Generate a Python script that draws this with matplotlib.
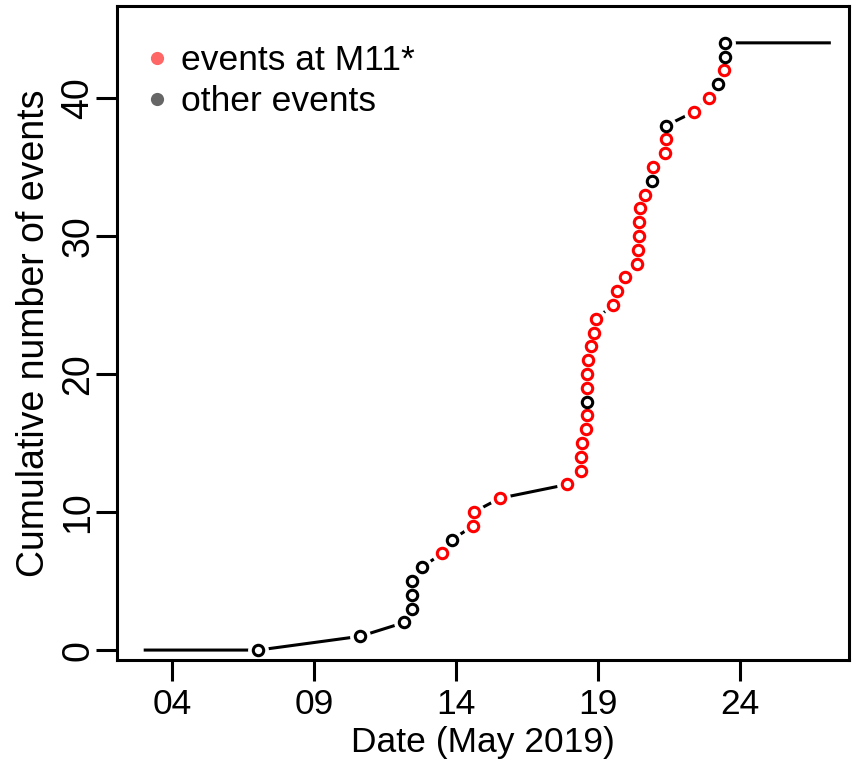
import numpy as np
import matplotlib
matplotlib.use("Agg")
import matplotlib.pyplot as plt
from matplotlib.lines import Line2D

plt.rcParams['font.family'] = ['Liberation Sans', 'DejaVu Sans']

# event times (day of May 2019, fractional) in order of occurrence
event_day = [7.04, 10.63, 12.18, 12.46, 12.46, 12.46, 12.79, 13.51, 13.86,
             14.60, 14.63, 15.54, 17.92, 18.39, 18.41, 18.45, 18.57, 18.60,
             18.60, 18.62, 18.62, 18.66, 18.74, 18.86, 18.92, 19.54, 19.68,
             19.95, 20.38, 20.41, 20.44, 20.44, 20.47, 20.65, 20.91, 20.94,
             21.36, 21.38, 21.40, 22.38, 22.91, 23.24, 23.44, 23.47, 23.49]
# True where the event was located at M11
at_m11 = [False, False, False, False, False, False, False, True, False,
          True, True, True, True, True, True, True, True, True,
          False, True, True, True, True, True, True, True, True,
          True, True, True, True, True, True, True, False, True,
          True, True, False, True, True, False, True, False, False]

period_start = 3.0   # start of observation window
period_end = 27.2    # end of observation window

tick_days = [4, 9, 14, 19, 24]
tick_labels = ['04', '09', '14', '19', '24']
y_ticks = [0, 10, 20, 30, 40]

FS_H = 25.5   # horizontal text
FS_V = 27     # rotated text on the y axis

days = np.array(event_day)
cum = np.arange(len(days))
m11 = np.array(at_m11)

fig = plt.figure(figsize=(8.59, 7.72), dpi=100)
ax = fig.add_axes([117 / 859, 1 - 660 / 772, 732 / 859, 654 / 772])

# cumulative line, extended to the window edges
line_x = np.concatenate([[period_start], days, [period_end]])
line_y = np.concatenate([[cum[0]], cum, [cum[-1]]])
ax.plot(line_x, line_y, color='black', lw=2.2, zorder=1, solid_capstyle='butt')

# white discs leave a gap in the line around each point
ax.plot(days, cum, 'o', ms=15, mfc='white', mec='none', zorder=2)

ax.plot(days[m11], cum[m11], 'o', ms=7.5, mfc='white', mec='red', mew=2.2,
        zorder=3, ls='none')
ax.plot(days[~m11], cum[~m11], 'o', ms=7.5, mfc='white', mec='black', mew=2.2,
        zorder=3, ls='none')

ax.set_xlim(2.06, 27.84)
ax.set_ylim(-0.72, 46.67)
ax.set_xticks(tick_days)
ax.set_xticklabels(tick_labels, fontsize=FS_H)
ax.set_yticks(y_ticks)
ax.set_yticklabels([str(v) for v in y_ticks], fontsize=FS_V, rotation=90,
                   va='center')
ax.tick_params(axis='both', length=15, width=2.2, color='black')
ax.tick_params(axis='x', pad=5)
ax.tick_params(axis='y', pad=0)

for sp in ax.spines.values():
    sp.set_linewidth(2.2)

ax.set_xlabel('Date (May 2019)', fontsize=FS_H, labelpad=4)
ax.set_ylabel('Cumulative number of events', fontsize=FS_V, labelpad=6)

handles = [
    Line2D([], [], marker='o', ls='none', ms=9.5, mfc='red', mec='none', alpha=0.6),
    Line2D([], [], marker='o', ls='none', ms=9.5, mfc='black', mec='none', alpha=0.6),
]
ax.legend(handles, ['events at M11*', 'other events'], loc='upper left',
          bbox_to_anchor=(0.0, 0.986), frameon=False, fontsize=FS_H,
          handlelength=0.6, handletextpad=0.4, labelspacing=0.22,
          borderaxespad=0.42)

fig.savefig('out.png', dpi=100)
